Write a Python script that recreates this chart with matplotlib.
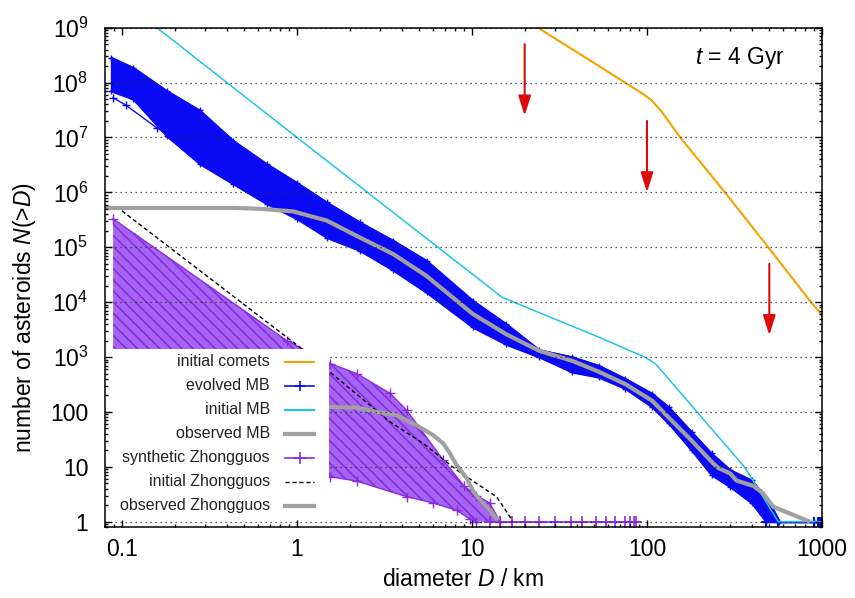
import numpy as np
import matplotlib
matplotlib.use('Agg')
import matplotlib.pyplot as plt
from matplotlib.patches import FancyArrowPatch, Rectangle
from matplotlib.lines import Line2D
from matplotlib.ticker import FixedLocator, FuncFormatter, LogLocator, NullFormatter

plt.rcParams['font.family'] = ['Liberation Sans', 'DejaVu Sans']
plt.rcParams['mathtext.fontset'] = 'custom'
plt.rcParams['mathtext.rm'] = 'Liberation Sans'
plt.rcParams['mathtext.it'] = 'Liberation Sans:italic'
plt.rcParams['hatch.linewidth'] = 1.2

# initial comets
comet_d = [10, 75, 95, 105, 120, 155, 279, 493, 865, 1000]
comet_n = [5.7e9, 1.0e8, 6.2e7, 4.9e7, 3.1e7, 1.0e7, 1.0e6, 1.0e5, 1.0e4, 5.8e3]

# initial main belt
imb_d = [0.08, 1.0, 14.9, 53, 97, 112, 363, 562, 1000]
imb_n = [5.5e9, 1.0e7, 1.22e4, 2.3e3, 1.0e3, 7.5e2, 9.7, 1, 1]

# evolved main belt, envelope of all runs
emb_up_d = [0.087, 0.116, 0.18, 0.279, 0.433, 0.671, 1.0, 1.48, 2.29, 3.55, 5.5, 10.1,
            15.7, 24.2, 37.5, 53, 75, 107, 133, 180, 234, 300, 396, 450, 520, 570, 1000]
emb_up_n = [2.85e8, 1.87e8, 7.1e7, 3.1e7, 8.7e6, 3.3e6, 1.5e6, 6.6e5, 2.85e5, 1.32e5, 5.7e4, 1.07e4,
            4.0e3, 1.35e3, 1.0e3, 700, 405, 216, 123, 43, 17.5, 8.7, 5.7, 3.5, 1.8, 1.0, 1.0]
emb_lo_d = [0.087, 0.116, 0.18, 0.279, 0.433, 0.671, 1.0, 1.48, 2.29, 3.55, 5.5, 10.1,
            15.7, 24.2, 37.5, 53, 75, 107, 133, 180, 234, 300, 396, 480, 1000]
emb_lo_n = [7.0e7, 5.0e7, 1.07e7, 3.3e6, 1.42e6, 6.2e5, 3.3e5, 1.5e5, 8.7e4, 3.8e4, 1.5e4, 3.5e3,
            1.7e3, 1.0e3, 5.3e2, 4.3e2, 267, 123, 61.6, 20, 7.1, 4.3, 2.2, 1.0, 1.0]
emb_stray_d = [0.089, 0.105, 0.158, 0.21]
emb_stray_n = [5.3e7, 3.9e7, 1.5e7, 8.7e6]
emb_tail_d = [480, 560, 900, 950, 980, 1000]
emb_tail_n = [1, 1, 1, 1, 1, 1]

# observed main belt
omb_d = [0.08, 0.45, 0.62, 0.95, 1.48, 2.29, 3.55, 5.5, 10.1, 15.7, 24.2, 37.5, 53, 75.4,
         107, 133, 180, 239, 256, 298, 325, 405, 461, 527, 853]
omb_n = [5.2e5, 5.2e5, 5.0e5, 4.5e5, 3.06e5, 1.5e5, 7.5e4, 3.0e4, 6.1e3, 2.6e3, 1.3e3, 8.5e2,
         5.4e2, 3.2e2, 1.6e2, 79, 30, 11.5, 9.5, 7.6, 5.6, 4.5, 3.28, 1.87, 1.0]

# synthetic Zhongguos, envelope of all runs
szg_up_d = [0.089, 0.873, 1.55, 2.19, 3.4, 4.24, 6.86, 9.0, 10.6, 12.6, 14.5]
szg_up_n = [3.3e5, 2.0e3, 760, 500, 219, 107, 13.2, 4.5, 3.0, 2.2, 1.0]
szg_lo_d = [0.089, 1.0, 1.55, 2.19, 4.24, 6.0, 8.2, 9.8, 10.5]
szg_lo_n = [600, 12, 6.6, 5.5, 2.85, 2.2, 1.6, 1.1, 1.0]
szg_tail_d = [12.6, 14.5, 16.9, 20, 24.3, 30, 36.8, 42.4, 51, 58, 66, 75, 80, 84, 87]
szg_tail_n = [1, 1, 1, 1, 1, 1, 1, 1, 1, 1, 1, 1, 1, 1, 1]

# initial and observed Zhongguos
izg_d = [0.1, 1.04, 1.58, 3.4, 5.27, 8.2, 10.6, 13.8, 16.5, 17.0]
izg_n = [4.6e5, 1.5e3, 500, 66, 26.6, 8.7, 5.0, 2.85, 1.23, 1.0]
ozg_d = [0.08, 1.55, 2.19, 2.85, 3.7, 4.83, 6.0, 6.86, 7.48, 8.18, 9.33, 10.2, 11.1, 12.7, 14.1]
ozg_n = [123, 123, 120, 100, 87, 57, 37.7, 26.6, 17.5, 10.7, 6.2, 3.5, 2.5, 1.6, 1.05]

# arrows: diameter, start, tip
arrow_d = [20, 100, 500]
arrow_from = [5e8, 2e7, 5e4]
arrow_to = [2.5e7, 1e6, 2.5e3]

c_orange = '#f7a000'
c_cyan = '#1ec4f0'
c_blue = '#0a0af5'
c_gray = '#a0a0a0'
c_purple = '#8a2be2'
c_red = '#dd0a0a'

fig = plt.figure(figsize=(8.55, 5.98), dpi=100)
ax = fig.add_axes([0.1228, 0.1187, 0.8386, 0.835])
ax.set_xscale('log')
ax.set_yscale('log')
ax.set_xlim(0.08, 1000)
ax.set_ylim(0.8, 1e9)

# Zhongguo runs
szg_d = np.union1d(szg_up_d, szg_lo_d)
up = np.interp(np.log10(szg_d), np.log10(szg_up_d), np.log10(szg_up_n))
lo = np.interp(np.log10(szg_d), np.log10(szg_lo_d), np.log10(szg_lo_n))
ax.fill_between(szg_d, 10**lo, 10**up, facecolor='#a466f2', edgecolor=c_purple,
                hatch='\\\\\\', linewidth=0, zorder=1)
ax.plot(szg_up_d, szg_up_n, color=c_purple, lw=1, marker='+', ms=7, zorder=1.1)
ax.plot(szg_lo_d, szg_lo_n, color=c_purple, lw=1, marker='+', ms=7, zorder=1.1)
ax.plot(szg_tail_d, szg_tail_n, color=c_purple, lw=1.2, marker='+', ms=8, mew=1.2, zorder=1.1)

# main belt runs
emb_d = np.union1d(emb_up_d, emb_lo_d)
up = np.interp(np.log10(emb_d), np.log10(emb_up_d), np.log10(emb_up_n))
lo = np.interp(np.log10(emb_d), np.log10(emb_lo_d), np.log10(emb_lo_n))
ax.fill_between(emb_d, 10**lo, 10**up, facecolor=c_blue, edgecolor=c_blue, linewidth=1.5, zorder=1.2)
ax.plot(emb_up_d, emb_up_n, color=c_blue, lw=1, marker='+', ms=5, zorder=1.3)
ax.plot(emb_lo_d, emb_lo_n, color=c_blue, lw=1, marker='+', ms=5, zorder=1.3)
ax.plot(emb_stray_d, emb_stray_n, color=c_blue, lw=1, marker='+', ms=6, zorder=1.3)
ax.plot(emb_tail_d, emb_tail_n, color=c_blue, lw=1.5, marker='+', ms=7, mew=1.5, zorder=1.3)

ax.plot(izg_d, izg_n, color='black', lw=1, dashes=(3, 2), zorder=2)
ax.plot(imb_d, imb_n, color=c_cyan, lw=1.1, zorder=2)
ax.plot(comet_d, comet_n, color=c_orange, lw=1.5, zorder=2)
ax.plot(omb_d, omb_n, color=c_gray, lw=3, zorder=2.1, solid_capstyle='butt', solid_joinstyle='round')
ax.plot(ozg_d, ozg_n, color=c_gray, lw=3, zorder=2.1, solid_capstyle='butt', solid_joinstyle='round')

for d, n0, n1 in zip(arrow_d, arrow_from, arrow_to):
    ax.add_patch(FancyArrowPatch((d, n0), (d, n1), arrowstyle='-|>,head_length=1.2,head_width=0.38',
                                 mutation_scale=10, color=c_red, lw=1.5, shrinkA=0, shrinkB=0, zorder=2.2))

# dotted grid at each decade
for k in range(10):
    ax.axhline(10.0**k, color='#303030', lw=0.9, ls=(0, (1, 3)), zorder=2.5)

# legend box (gnuplot style, text then sample)
ax.add_patch(Rectangle((0, 0.018), 0.3124, 0.3385, transform=ax.transAxes,
                       facecolor='white', edgecolor='none', zorder=3))
entries = [
    ('initial comets', dict(color=c_orange, lw=1.5)),
    ('evolved MB', dict(color=c_blue, lw=1.2, marker='+', ms=7, mew=1.2, markevery=[1])),
    ('initial MB', dict(color=c_cyan, lw=1.5)),
    ('observed MB', dict(color=c_gray, lw=3)),
    ('synthetic Zhongguos', dict(color=c_purple, lw=1.2, marker='+', ms=9, mew=1.2, markevery=[1])),
    ('initial Zhongguos', dict(color='black', lw=1, dashes=(3, 2))),
    ('observed Zhongguos', dict(color=c_gray, lw=3)),
]
for i, (label, style) in enumerate(entries):
    y = 0.331 - i * 0.0481
    ax.text(0.2301, y, label, transform=ax.transAxes, ha='right', va='center',
            fontsize=11.5, color='#222222', zorder=3.1)
    ax.add_line(Line2D([0.251, 0.2715, 0.292], [y, y, y], transform=ax.transAxes,
                       zorder=3.1, **style))

ax.text(0.948, 0.939, r'$t$ = 4 Gyr', transform=ax.transAxes, ha='right', va='center', fontsize=16.5)

# axes, ticks, labels
ax.xaxis.set_major_locator(FixedLocator([0.1, 1, 10, 100, 1000]))
ax.xaxis.set_major_formatter(FuncFormatter(lambda v, p: '%g' % v))
ax.xaxis.set_minor_locator(LogLocator(base=10, subs=np.arange(2, 10), numticks=20))
ax.xaxis.set_minor_formatter(NullFormatter())
ax.yaxis.set_major_locator(FixedLocator([10.0**k for k in range(10)]))
ax.yaxis.set_major_formatter(FuncFormatter(
    lambda v, p: '%d' % round(v) if v < 1000 else r'10$^{%d}$' % round(np.log10(v))))
ax.yaxis.set_minor_locator(LogLocator(base=10, subs=np.arange(2, 10), numticks=20))
ax.yaxis.set_minor_formatter(NullFormatter())
ax.tick_params(which='both', direction='in', top=True, right=True, width=1, labelsize=16.5)
ax.tick_params(which='major', length=5)
ax.tick_params(which='minor', length=2.5)
ax.tick_params(axis='x', pad=8)
ax.tick_params(axis='y', pad=12)
ax.xaxis.set_zorder(5)
ax.yaxis.set_zorder(5)
for s in ax.spines.values():
    s.set_linewidth(1.1)
    s.set_zorder(5)

ax.set_xlabel(r'diameter $D$ / km', fontsize=16.5, va='center')
ax.xaxis.set_label_coords(0.5, -0.106)
ax.set_ylabel(r'number of asteroids $N$(>$D$)', fontsize=16.5, va='center')
ax.yaxis.set_label_coords(-0.112, 0.42)

fig.savefig('out.png', dpi=100)
